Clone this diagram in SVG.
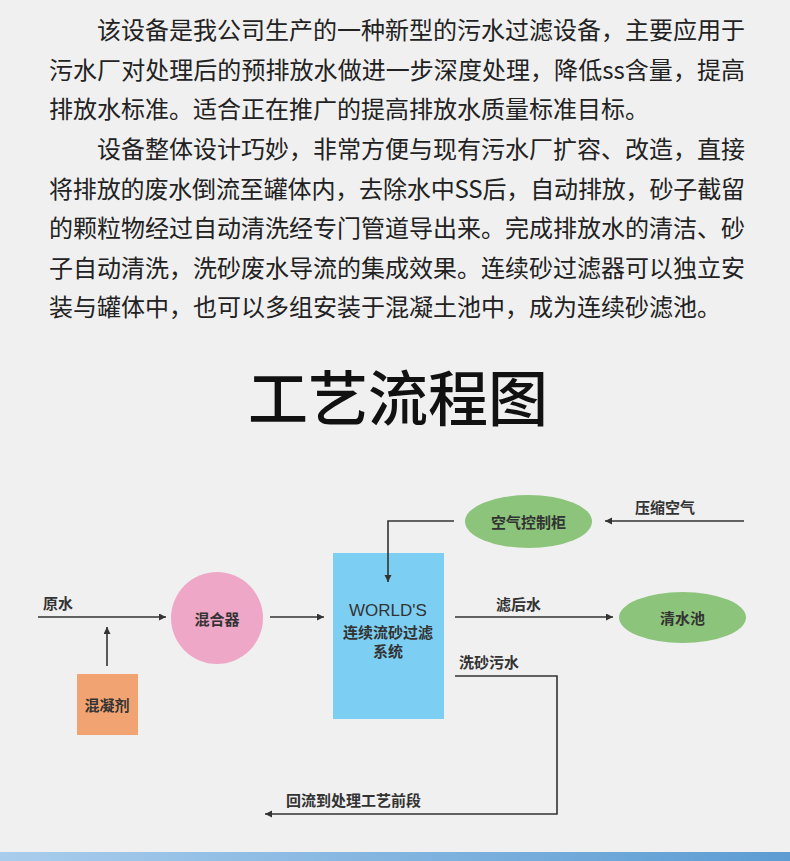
<svg xmlns="http://www.w3.org/2000/svg" width="790" height="861" viewBox="0 0 790 861">
<style>
.p{font-family:"Noto Sans CJK SC","Noto Sans",sans-serif;font-size:24px;fill:#222;}
.t{font-family:"Noto Sans CJK SC","Noto Sans",sans-serif;font-size:60px;font-weight:500;fill:#111;}
.l{font-family:"Noto Sans CJK SC","Noto Sans",sans-serif;font-size:15px;font-weight:bold;fill:#333;}
.n{font-family:"Noto Sans CJK SC","Noto Sans",sans-serif;font-size:15px;font-weight:bold;fill:#333;text-anchor:middle;dominant-baseline:central;}
.w{font-family:"Liberation Sans","Noto Sans CJK SC",sans-serif;font-size:17px;fill:#333;text-anchor:middle;dominant-baseline:central;}
.c{fill:none;stroke:#333;stroke-width:1.6;}
</style>
<defs>
<marker id="ah" markerUnits="userSpaceOnUse" markerWidth="8" markerHeight="8" refX="7" refY="3.5" orient="auto">
<path d="M0,0 L7,3.5 L0,7 z" fill="#333"/>
</marker>
<linearGradient id="bar" x1="0" y1="0" x2="1" y2="0">
<stop offset="0" stop-color="#a9cdec"/>
<stop offset="1" stop-color="#5c9cd3"/>
</linearGradient>
</defs>
<rect x="0" y="0" width="790" height="861" fill="#f0f0f0"/>

<g id="intro">
<text class="p" x="97" y="39" textLength="648" lengthAdjust="spacing">该设备是我公司生产的一种新型的污水过滤设备，主要应用于</text>
<text class="p" x="49" y="79" textLength="696" lengthAdjust="spacing">污水厂对处理后的预排放水做进一步深度处理，降低ss含量，提高</text>
<text class="p" x="49" y="118">排放水标准。适合正在推广的提高排放水质量标准目标。</text>
<text class="p" x="97" y="158" textLength="648" lengthAdjust="spacing">设备整体设计巧妙，非常方便与现有污水厂扩容、改造，直接</text>
<text class="p" x="49" y="198" textLength="696" lengthAdjust="spacing">将排放的废水倒流至罐体内，去除水中SS后，自动排放，砂子截留</text>
<text class="p" x="49" y="237" textLength="696" lengthAdjust="spacing">的颗粒物经过自动清洗经专门管道导出来。完成排放水的清洁、砂</text>
<text class="p" x="49" y="277" textLength="696" lengthAdjust="spacing">子自动清洗，洗砂废水导流的集成效果。连续砂过滤器可以独立安</text>
<text class="p" x="49" y="316">装与罐体中，也可以多组安装于混凝土池中，成为连续砂滤池。</text>
</g>

<text class="t" x="398" y="421" text-anchor="middle">工艺流程图</text>

<g id="mixer">
<circle cx="217" cy="618" r="46" fill="#efa7c7"/>
<text class="n" x="217" y="618">混合器</text>
</g>

<g id="coagulant">
<rect x="77" y="674" width="61" height="61" fill="#f2a372"/>
<text class="n" x="107" y="704">混凝剂</text>
</g>

<g id="filter">
<rect x="333" y="553" width="111" height="166" fill="#7ccef2"/>
<text class="w" x="388" y="610">WORLD'S</text>
<text class="n" x="388" y="631">连续流砂过滤</text>
<text class="n" x="388" y="650">系统</text>
</g>

<g id="air-cabinet">
<ellipse cx="528.5" cy="521.5" rx="63.5" ry="26.5" fill="#8cc47b"/>
<text class="n" x="528.5" y="521.5">空气控制柜</text>
</g>

<g id="clear-pool">
<ellipse cx="682.5" cy="617.5" rx="63.5" ry="25.5" fill="#8cc47b"/>
<text class="n" x="682.5" y="617.5">清水池</text>
</g>

<g id="connectors">
<line class="c" x1="38" y1="617" x2="166" y2="617" marker-end="url(#ah)"/>
<line class="c" x1="107" y1="666" x2="107" y2="627" marker-end="url(#ah)"/>
<line class="c" x1="270" y1="617" x2="324" y2="617" marker-end="url(#ah)"/>
<polyline class="c" points="454,521 388,521 388,582" marker-end="url(#ah)"/>
<line class="c" x1="744" y1="521" x2="605" y2="521" marker-end="url(#ah)"/>
<line class="c" x1="455" y1="617" x2="613" y2="617" marker-end="url(#ah)"/>
<polyline class="c" points="455,676 557,676 557,814 265,814" marker-end="url(#ah)"/>
<text class="l" x="43" y="609">原水</text>
<text class="l" x="635" y="513">压缩空气</text>
<text class="l" x="496" y="610">滤后水</text>
<text class="l" x="459" y="668">洗砂污水</text>
<text class="l" x="286" y="806">回流到处理工艺前段</text>
</g>

<rect x="0" y="852" width="790" height="9" fill="url(#bar)"/>
</svg>
